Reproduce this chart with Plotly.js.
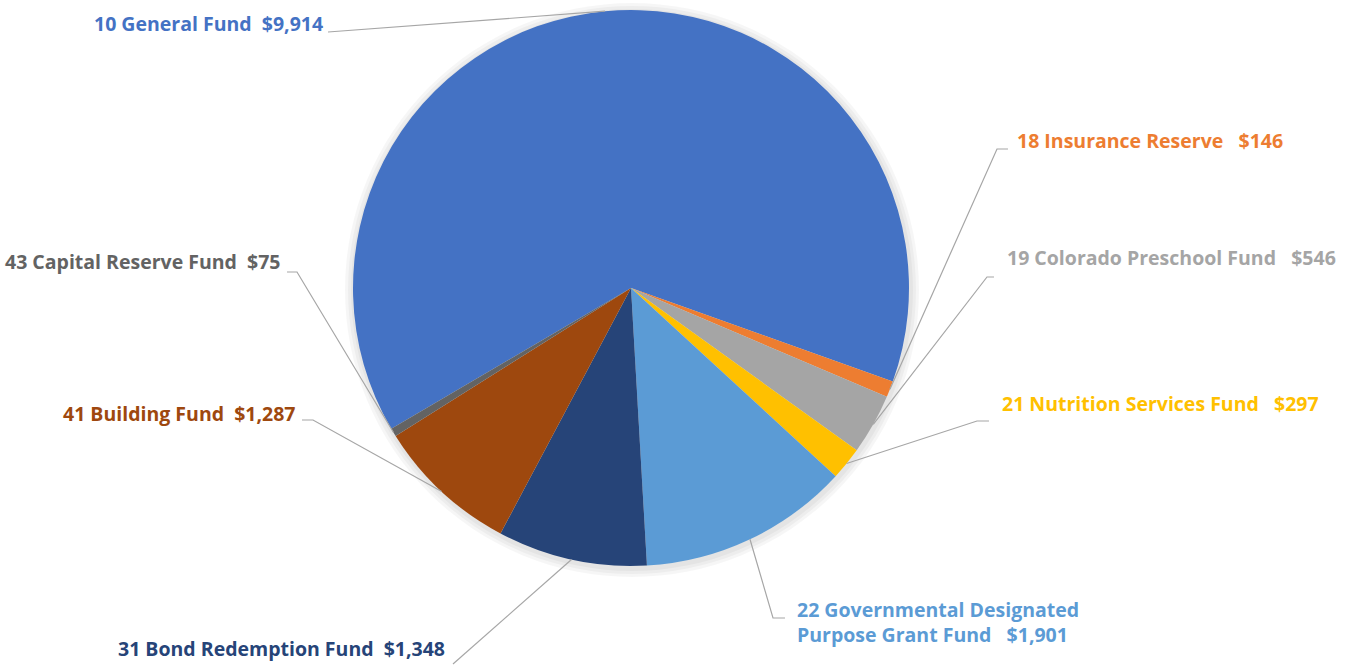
<!DOCTYPE html>
<html><head><meta charset="utf-8">
<script src="https://cdn.plot.ly/plotly-3.0.1.min.js"></script>
<style>html,body{margin:0;padding:0;background:#fff;}#chart{width:1351px;height:665px;}</style>
</head><body><div id="chart"></div>
<script>
// ---- data ----
const funds = ['10 General Fund','18 Insurance Reserve','19 Colorado Preschool Fund','21 Nutrition Services Fund','22 Governmental Designated<br>Purpose Grant Fund','31 Bond Redemption Fund','41 Building Fund','43 Capital Reserve Fund'];
const amounts = [9914,146,546,297,1901,1348,1287,75];
const colors = ['#4472C4','#ED7D31','#A5A5A5','#FFC000','#5B9BD5','#264478','#9E480E','#636363'];
const gaps = [2,3,3,3,3,2,2,2];

// ---- layout (pixels) ----
const W = 1351, H = 665;
const CX = 631, CY = 288, R = 278;
const ROT = -120.4;
// label anchor positions and leader elbows
const labelPos = [
  {x:325, y:24, xa:'right'},
  {x:1015, y:141, xa:'left'},
  {x:1005, y:257, xa:'left'},
  {x:1000, y:403, xa:'left'},
  {x:795, y:622, xa:'left'},
  {x:447, y:648, xa:'right'},
  {x:298, y:413, xa:'right'},
  {x:283, y:261, xa:'right'}
];
const elbows = [
  [[328,32]],
  [[1008,149],[997,149]],
  [[994,277],[987,277]],
  [[989,421],[977,421]],
  [[785,618],[773,618]],
  [[453,664]],
  [[302,420],[313,420]],
  [[287,272],[297,272]]
];

const px = x => x / W;
const py = y => 1 - y / H;

const total = amounts.reduce((a,b)=>a+b,0);
const shapes = [];
// soft shadow
[9,6,3].forEach((d,i)=>{
  shapes.push({type:'circle', xref:'paper', yref:'paper', layer:'below',
    x0:px(CX-R-d+1), x1:px(CX+R+d+1), y0:py(CY+R+d+2), y1:py(CY-R-d+2),
    fillcolor:'rgba(0,0,0,0.035)', line:{width:0}});
});
const annotations = [];
let cum = 0;
amounts.forEach((v,i)=>{
  const mid = (ROT + (cum + v/2)/total*360) * Math.PI/180;
  cum += v;
  const ex = CX + R*Math.sin(mid), ey = CY - R*Math.cos(mid);
  const pts = elbows[i].concat([[ex,ey]]);
  const path = pts.map((p,k)=>(k?'L':'M')+px(p[0]).toFixed(5)+','+py(p[1]).toFixed(5)).join(' ');
  shapes.push({type:'path', xref:'paper', yref:'paper', path:path, line:{color:'#A6A6A6', width:1.2}, layer:'above'});
  const txt = '<b>' + funds[i] + '\u00a0'.repeat(gaps[i]) + '$' + v.toLocaleString('en-US') + '</b>';
  annotations.push({xref:'paper', yref:'paper', x:px(labelPos[i].x), y:py(labelPos[i].y),
    xanchor:labelPos[i].xa, yanchor:'middle', align:'left', showarrow:false, text:txt,
    font:{family:'Open Sans, sans-serif', size:19.5, color:colors[i]}});
});

const trace = {
  type:'pie', values:amounts, labels:funds, sort:false, direction:'clockwise', rotation:ROT,
  marker:{colors:colors, line:{width:0}}, textinfo:'none', hoverinfo:'none',
  domain:{x:[px(CX-R), px(CX+R)], y:[py(CY+R), py(CY-R)]}
};
Plotly.newPlot('chart', [trace], {
  width:W, height:H, margin:{l:0,r:0,t:0,b:0}, showlegend:false,
  paper_bgcolor:'#fff', shapes:shapes, annotations:annotations
}, {staticPlot:true});
</script></body></html>
